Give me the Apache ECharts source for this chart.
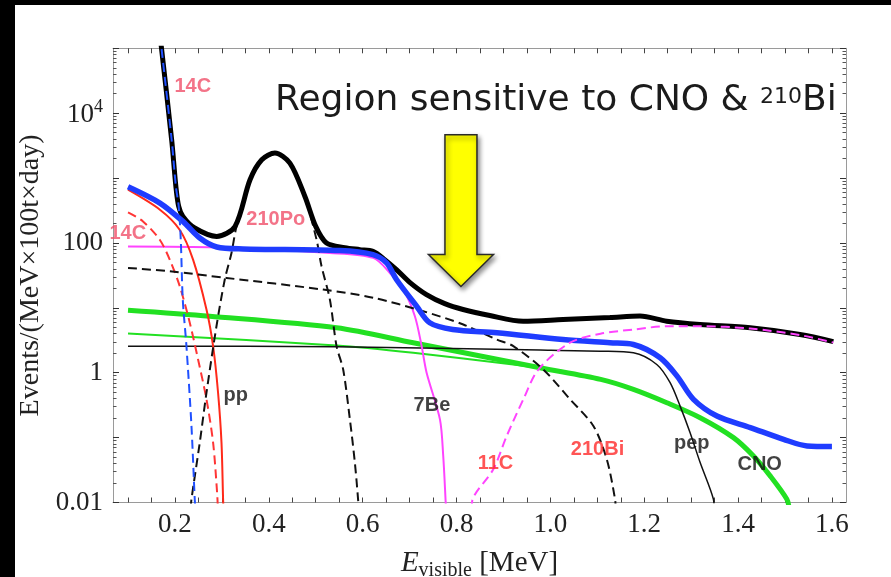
<!DOCTYPE html>
<html>
<head>
<meta charset="utf-8">
<script src="https://cdn.jsdelivr.net/npm/echarts@6/dist/echarts.min.js"></script>
<style>
  html, body { margin: 0; padding: 0; background: #000; }
  body { width: 891px; height: 577px; position: relative; overflow: hidden; }
  #chart { position: absolute; left: 15px; top: 5px; width: 876px; height: 572px; background: #fff; }
</style>
</head>
<body>
<div id="chart"></div>
<script>
// energy [MeV], rate [events / (MeV x 100t x day)]
const total = [[0.165, 260000], [0.171, 106000], [0.193, 3880], [0.202, 743], [0.208, 366], [0.217, 256], [0.242, 170], [0.289, 126], [0.328, 180], [0.360, 942], [0.385, 1914], [0.413, 2427], [0.445, 1702], [0.477, 521], [0.500, 180], [0.523, 100], [0.562, 84.7], [0.594, 78.9], [0.622, 74.3], [0.647, 55.3], [0.672, 38.8], [0.701, 24.5], [0.736, 16.0], [0.775, 11.6], [0.814, 9.42], [0.871, 7.62], [0.942, 6.22], [1.027, 6.61], [1.127, 7.1], [1.191, 7.48], [1.248, 6.22], [1.319, 5.53], [1.426, 4.92], [1.532, 3.88], [1.603, 3.02]];
const totalNo14C = [[0.1, 735], [0.168, 412], [0.217, 215], [0.253, 119], [0.289, 86.7], [0.345, 80.9], [0.551, 76.2], [0.622, 66], [0.651, 49.2], [0.672, 27.3], [0.715, 10.6], [0.743, 5.88], [0.792, 4.63], [0.886, 4.12], [1.027, 3.25], [1.127, 2.89], [1.177, 2.72], [1.234, 1.70], [1.270, 0.887], [1.305, 0.389], [1.355, 0.215], [1.426, 0.143], [1.497, 0.094], [1.547, 0.0743], [1.6, 0.0727]];
const c14 = [[0.165, 260000], [0.171, 106000], [0.193, 3880], [0.202, 743], [0.208, 366], [0.2124, 112], [0.2167, 13.4], [0.2245, 2.57], [0.2352, 0.151], [0.2422, 0.0112], [0.244, 0.007]];
const c14Pileup = [[0.1, 296], [0.132, 215], [0.1676, 112], [0.1889, 55.4], [0.2103, 21.5], [0.2316, 5.88], [0.2493, 1.6], [0.2672, 0.389], [0.2813, 0.0838], [0.2898, 0.0143], [0.2915, 0.008]];
const pp = [[0.1, 661], [0.168, 325], [0.21, 160], [0.2386, 55.4], [0.2672, 9.42], [0.2813, 2.57], [0.2919, 0.492], [0.2992, 0.0838], [0.3026, 0.0112], [0.3035, 0.008]];
const be7 = [[0.1, 88], [0.29, 85], [0.53, 70], [0.6225, 58.8], [0.658, 34.5], [0.6865, 19.1], [0.7113, 7.43], [0.7257, 2.57], [0.7363, 1.0], [0.7647, 0.191], [0.7717, 0.052], [0.7768, 0.0106], [0.7775, 0.008]];
const po210 = [[0.2335, 0.008], [0.2352, 0.0112], [0.2529, 0.0838], [0.2672, 0.492], [0.2885, 5.21], [0.3062, 27.3], [0.3205, 70.2], [0.3312, 180], [0.360, 900], [0.385, 1850], [0.413, 2380], [0.445, 1650], [0.477, 500], [0.5018, 112], [0.5124, 43.7], [0.5302, 13.4], [0.5444, 2.57], [0.5585, 1.12], [0.5728, 0.191], [0.5834, 0.0412], [0.5905, 0.0106], [0.591, 0.008]];
const bi210 = [[0.1, 41.2], [0.1889, 36.6], [0.3098, 28.9], [0.5158, 19.1], [0.6225, 14.3], [0.7291, 8.87], [0.8144, 5.53], [0.8856, 3.25], [0.9211, 2.57], [0.985, 1.12], [1.042, 0.389], [1.0917, 0.151], [1.1202, 0.0464], [1.1379, 0.0112], [1.139, 0.008]];
const c11 = [[0.8325, 0.008], [0.8335, 0.0106], [0.8784, 0.0325], [0.907, 0.106], [0.9424, 0.389], [0.9744, 1.12], [1.0419, 2.9], [1.107, 4.0], [1.177, 4.63], [1.2482, 5.21], [1.3192, 5.21], [1.426, 4.8], [1.532, 3.8], [1.603, 2.92]];
const cno = [[0.1, 9.19], [0.2742, 7.43], [0.5444, 4.92], [0.7078, 2.9], [0.978, 1.19], [1.1073, 0.789], [1.177, 0.554], [1.2482, 0.345], [1.3192, 0.203], [1.3902, 0.1], [1.4328, 0.0521], [1.4684, 0.0257], [1.504, 0.0112], [1.509, 0.008]];
const cnoLow = [[0.1, 4.02], [0.5444, 2.63], [0.7078, 2.03], [0.921, 1.34], [0.978, 1.19]];
const pep = [[0.1, 2.57], [0.544, 2.51], [0.978, 2.24], [1.107, 2.15], [1.177, 2.03], [1.2268, 1.34], [1.2552, 0.702], [1.2765, 0.306], [1.2978, 0.119], [1.3192, 0.0412], [1.3475, 0.0112], [1.349, 0.008]];

// curve tags
const tagNames = ['14C', '14C', '210Po', 'pp', '7Be', '11C', '210Bi', 'pep', 'CNO'];
const tagEnergies = [0.238, 0.0994, 0.415, 0.3297, 0.7477, 0.883, 1.1005, 1.3014, 1.446];
const tagRates = [25400, 139, 229, 0.448, 0.314, 0.0395, 0.066, 0.0803, 0.0388];

// axes
const xLabelValues = [0.2, 0.4, 0.6, 0.8, 1.0, 1.2, 1.4, 1.6];
const yLabelValues = [0.01, 1, 100, 10000];
const yLabelTexts = ['0.01', '1', '100', '{b|10}{s|4}'];

// arrow: tip and tail in data coordinates
const arrowTip = [0.8095, 21.3];
const arrowTail = [0.8095, 4640];

const xTicks = [];
for (let i = 0; i <= 30; i++) xTicks.push(+(0.1 + i * 0.05).toFixed(2));

const tagColor = { '14C': '#f0506a', '210Po': '#f0506a', '11C': '#ff2a2a', '210Bi': '#ff2a2a' };

const serif = 'Liberation Serif, Times New Roman, serif';
const chart = echarts.init(document.getElementById('chart'));

function curve(data, color, width, dashed, z) {
  return {
    type: 'line',
    data: data,
    symbol: 'none',
    smooth: 0.3,
    clip: true,
    silent: true,
    z: z,
    lineStyle: { color: color, width: width, type: dashed ? [9, 5] : 'solid' }
  };
}

function yLabel(v) {
  for (let i = 0; i < yLabelValues.length; i++) {
    if (Math.abs(Math.log10(v) - Math.log10(yLabelValues[i])) < 1e-6) return yLabelTexts[i];
  }
  return '';
}

const xMin = 0.068, xMax = 1.63, yMin = 0.01, yMax = 100000;
const axisLineStyle = { lineStyle: { color: '#9a9a9a', width: 1 } };
const tickStyle = { inside: true, length: 5, lineStyle: { color: '#444', width: 1 } };
const logTick = { inside: true, length: 6, lineStyle: { color: '#333', width: 1 } };
const logMinor = { show: true, splitNumber: 9, length: 3.5, lineStyle: { color: '#555', width: 1 } };

chart.setOption({
  animation: false,
  title: {
    left: 260,
    top: 72,
    padding: 0,
    text: '{a|Region sensitive to CNO & }{s|210}{a|Bi}',
    textStyle: {
      rich: {
        a: { fontFamily: 'DejaVu Sans', fontWeight: 'normal', fontSize: 36, color: '#1b1b1b', verticalAlign: 'bottom', lineHeight: 42 },
        s: { fontFamily: 'DejaVu Sans', fontWeight: 'normal', fontSize: 22, color: '#1b1b1b', verticalAlign: 'bottom', lineHeight: 26, padding: [0, 0, 11, 0] }
      }
    }
  },
  grid: { left: 98, right: 45, top: 43.3, bottom: 74.5, outerBoundsMode: 'none', containLabel: false },
  xAxis: [
    {
      type: 'value', min: xMin, max: xMax,
      name: '{e|E}{v|visible}{n| [MeV]}',
      nameLocation: 'middle',
      nameGap: 48,
      nameTextStyle: {
        rich: {
          e: { fontFamily: serif, fontStyle: 'italic', fontSize: 29, color: '#222', verticalAlign: 'bottom', lineHeight: 30, padding: [0, 0, 3, 0] },
          v: { fontFamily: serif, fontSize: 20, color: '#222', verticalAlign: 'bottom', lineHeight: 22 },
          n: { fontFamily: serif, fontSize: 29, color: '#222', verticalAlign: 'bottom', lineHeight: 30, padding: [0, 0, 3, 0] }
        }
      },
      axisLine: axisLineStyle,
      axisTick: Object.assign({ customValues: xTicks }, tickStyle),
      axisLabel: {
        customValues: xLabelValues,
        formatter: v => v.toFixed(1),
        fontFamily: serif, fontSize: 27, color: '#222', margin: 9
      },
      splitLine: { show: false }
    },
    {
      type: 'value', min: xMin, max: xMax, position: 'top',
      axisLine: axisLineStyle,
      axisTick: Object.assign({ customValues: xTicks }, tickStyle),
      axisLabel: { show: false },
      splitLine: { show: false }
    }
  ],
  yAxis: [
    {
      type: 'log', logBase: 10, min: yMin, max: yMax, interval: 1,
      name: 'Events/(MeV×100t×day)',
      nameLocation: 'middle',
      nameGap: 62,
      nameTextStyle: { fontFamily: serif, fontSize: 28, color: '#222' },
      axisLine: axisLineStyle,
      axisTick: logTick,
      minorTick: logMinor,
      axisLabel: {
        formatter: yLabel,
        fontFamily: serif, fontSize: 27, color: '#222', margin: 10,
        rich: {
          b: { fontFamily: serif, fontSize: 27, color: '#222', verticalAlign: 'bottom', lineHeight: 30 },
          s: { fontFamily: serif, fontSize: 18, color: '#222', verticalAlign: 'bottom', lineHeight: 20, padding: [0, 0, 12, 0] }
        }
      },
      splitLine: { show: false }
    },
    {
      type: 'log', logBase: 10, min: yMin, max: yMax, interval: 1, position: 'right',
      axisLine: axisLineStyle,
      axisTick: logTick,
      minorTick: logMinor,
      axisLabel: { show: false },
      splitLine: { show: false }
    }
  ],
  series: [
    curve(cnoLow, '#22e022', 2, false, 2),
    curve(cno, '#22e022', 5, false, 3),
    curve(pep, '#111', 1.5, false, 3),
    curve(be7, '#ff44ff', 2, false, 3),
    curve(pp, '#ff2a1a', 2, false, 3),
    curve(c14Pileup, '#ff3535', 2, true, 3),
    curve(bi210, '#111', 2, true, 3),
    curve(po210, '#111', 2, true, 3),
    curve(total, '#000', 5, false, 4),
    curve(totalNo14C, '#1f3cff', 5.5, false, 5),
    curve(c14, '#2050ff', 2, true, 6),
    curve(c11, '#ff44ff', 2, true, 6),
    {
      type: 'scatter',
      symbolSize: 0,
      silent: true,
      z: 10,
      data: tagNames.map((n, i) => ({
        name: n,
        value: [tagEnergies[i], tagRates[i]],
        label: { color: tagColor[n] || '#111' }
      })),
      label: {
        show: true,
        position: 'inside',
        formatter: p => p.name,
        fontFamily: 'Liberation Sans, Arial, sans-serif',
        fontWeight: 'bold',
        fontSize: 20
      }
    }
  ]
});

// yellow arrow pointing at the CNO / 210Bi window
const tip = chart.convertToPixel({ gridIndex: 0 }, arrowTip);
const tail = chart.convertToPixel({ gridIndex: 0 }, arrowTail);
const shaftHalf = 16, headHalf = 32.5, headLen = 32;
chart.setOption({
  graphic: [{
    type: 'polygon',
    z: 20,
    shape: {
      points: [
        [tip[0] - shaftHalf, tail[1]],
        [tip[0] + shaftHalf, tail[1]],
        [tip[0] + shaftHalf, tip[1] - headLen],
        [tip[0] + headHalf, tip[1] - headLen],
        [tip[0], tip[1]],
        [tip[0] - headHalf, tip[1] - headLen],
        [tip[0] - shaftHalf, tip[1] - headLen]
      ]
    },
    style: {
      fill: '#ffff00',
      stroke: '#2a2a2a',
      lineWidth: 1.5,
      shadowBlur: 5,
      shadowColor: 'rgba(0,0,0,0.45)',
      shadowOffsetX: 2,
      shadowOffsetY: 3
    }
  }]
});
</script>
</body>
</html>
